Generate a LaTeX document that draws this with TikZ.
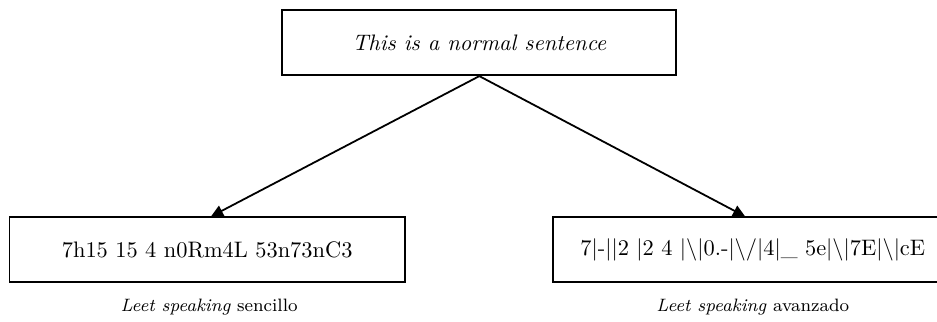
\documentclass[tikz,border=0pt]{standalone}
\usepackage{tikz}
\usetikzlibrary{arrows.meta}

\begin{document}
\begin{tikzpicture}[
	sentence/.style={draw, thick, minimum height=1.02cm, inner sep=0pt},
	leetarrow/.style={thick, -{Triangle[length=1.9mm, width=1.8mm]}},
	caption/.style={font=\footnotesize, anchor=base}]
	\useasboundingbox (0,0) rectangle (14.70,5.04);
	% original sentence
	\node[sentence, minimum width=6.18cm] (orig) at (7.52,4.37) {\textit{This is a normal sentence}};
	% simple leet
	\node[sentence, minimum width=6.20cm] (simple) at (3.25,1.12) {7h15 15 4 n0Rm4L 53n73nC3};
	% advanced leet
	\node[sentence, minimum width=6.28cm] (adv) at (11.81,1.12)
		{7|-||2 |2 4 |\textbackslash|0.-|\textbackslash/|4|\_ 5e|\textbackslash|7E|\textbackslash|cE};
	% captions
	\node[caption] (simplecap) at (3.28,0.16) {\textit{Leet speaking} sencillo};
	\node[caption] (advcap) at (11.81,0.16) {\textit{Leet speaking} avanzado};
	% arrows
	\coordinate (simpletip) at ([xshift=0.06cm]simple.north);
	\coordinate (advtip) at ([xshift=-0.12cm]adv.north);
	\draw[leetarrow] (orig.south) -- (simpletip);
	\draw[leetarrow] (orig.south) -- (advtip);
\end{tikzpicture}
\end{document}
